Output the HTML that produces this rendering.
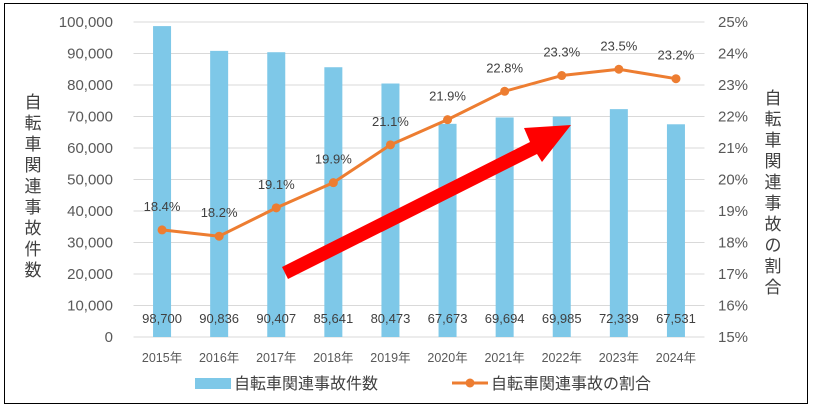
<!DOCTYPE html>
<html><head><meta charset="utf-8"><style>
body{margin:0;background:#fff;}
svg{display:block;font-family:"Liberation Sans","Noto Sans CJK JP",sans-serif;}
</style></head><body>
<svg id="c" width="813" height="412">
<rect x="4.5" y="3.5" width="803" height="400" fill="#fff" stroke="#000"/>
<g id="grid"></g><g id="bars"></g><g id="line"></g><g id="labels"></g>
<polygon fill="#ff0000" points="282,267 530,142 524,128 571,125 542,162 537,154 288,279"/>
<text font-size="17" fill="#404040" text-anchor="middle" font-family="Noto Sans CJK JP,sans-serif">
<tspan x="33" y="108">自</tspan><tspan x="33" y="129">転</tspan><tspan x="33" y="150">車</tspan><tspan x="33" y="171">関</tspan><tspan x="33" y="192">連</tspan><tspan x="33" y="213">事</tspan><tspan x="33" y="234">故</tspan><tspan x="33" y="255">件</tspan><tspan x="33" y="276">数</tspan></text>
<text font-size="17" fill="#404040" text-anchor="middle" font-family="Noto Sans CJK JP,sans-serif">
<tspan x="773" y="104">自</tspan><tspan x="773" y="125">転</tspan><tspan x="773" y="146">車</tspan><tspan x="773" y="167">関</tspan><tspan x="773" y="188">連</tspan><tspan x="773" y="209">事</tspan><tspan x="773" y="230">故</tspan><tspan x="773" y="251">の</tspan><tspan x="773" y="272">割</tspan><tspan x="773" y="293">合</tspan></text>
<g>
<rect x="195" y="378" width="36" height="11" fill="#7ec8e8"/>
<text x="234" y="389" font-size="16" fill="#404040">自転車関連事故件数</text>
<line x1="452" y1="383" x2="488" y2="383" stroke="#ed7d31" stroke-width="3"/>
<circle cx="470" cy="383" r="4.5" fill="#ed7d31"/>
<text x="491" y="389" font-size="16" fill="#404040">自転車関連事故の割合</text>
</g>
</svg>
<script>
const categories=["2015年","2016年","2017年","2018年","2019年","2020年","2021年","2022年","2023年","2024年"];
const counts=[98700,90836,90407,85641,80473,67673,69694,69985,72339,67531];
const ratios=[18.4,18.2,19.1,19.9,21.1,21.9,22.8,23.3,23.5,23.2];
const leftTicks=[0,10000,20000,30000,40000,50000,60000,70000,80000,90000,100000];
const rightTicks=[15,16,17,18,19,20,21,22,23,24,25];
const NS="http://www.w3.org/2000/svg";
const X0=133.5,X1=704.5,Y0=337,Y1=22;
const step=(X1-X0)/categories.length;
const xc=i=>X0+step*(i+0.5);
const yL=v=>Y0-(v/100000)*(Y0-Y1);
const yR=v=>Y0-((v-15)/10)*(Y0-Y1);
function mk(tag,attrs,parent,txt){const e=document.createElementNS(NS,tag);for(const k in attrs)e.setAttribute(k,attrs[k]);if(txt!=null)e.textContent=txt;document.getElementById(parent).appendChild(e);return e;}
const fmt=v=>v.toLocaleString("en-US");
leftTicks.forEach((t,i)=>{
  const y=yL(t);
  const g=mk("line",{x1:X0,x2:X1,y1:y,y2:y,stroke:"#d9d9d9","stroke-width":1},"grid");
  
  
  const l=mk("text",{x:113,y:y+5,"text-anchor":"end","font-size":15,fill:"#595959"},"labels",fmt(t));
  
  
});
rightTicks.forEach(t=>{
  const l=mk("text",{x:718,y:yR(t)+5,"font-size":15,fill:"#595959"},"labels",t+"%");
  
  
});
categories.forEach((c,i)=>{
  const b=mk("rect",{x:xc(i)-9,y:yL(counts[i]),width:18,height:Y0-yL(counts[i]),fill:"#7ec8e8"},"bars");
  
  
  const v=mk("text",{x:xc(i),y:323,"text-anchor":"middle","font-size":13,fill:"#404040"},"labels",fmt(counts[i]));
  
  
  const xl=mk("text",{x:xc(i),y:362,"text-anchor":"middle","font-size":12.5,fill:"#595959"},"labels",c);
  
  
});
const pts=ratios.map((r,i)=>xc(i)+","+yR(r)).join(" ");
const pl=mk("polyline",{points:pts,fill:"none",stroke:"#ed7d31","stroke-width":3,"stroke-linejoin":"round"},"line");


ratios.forEach((r,i)=>{
  const m=mk("circle",{cx:xc(i),cy:yR(r),r:4.5,fill:"#ed7d31"},"line");
  
  
  const t=mk("text",{x:xc(i),y:yR(r)-19,"text-anchor":"middle","font-size":13,fill:"#404040"},"labels",r.toFixed(1)+"%");
  
  
});
</script>
</body></html>
